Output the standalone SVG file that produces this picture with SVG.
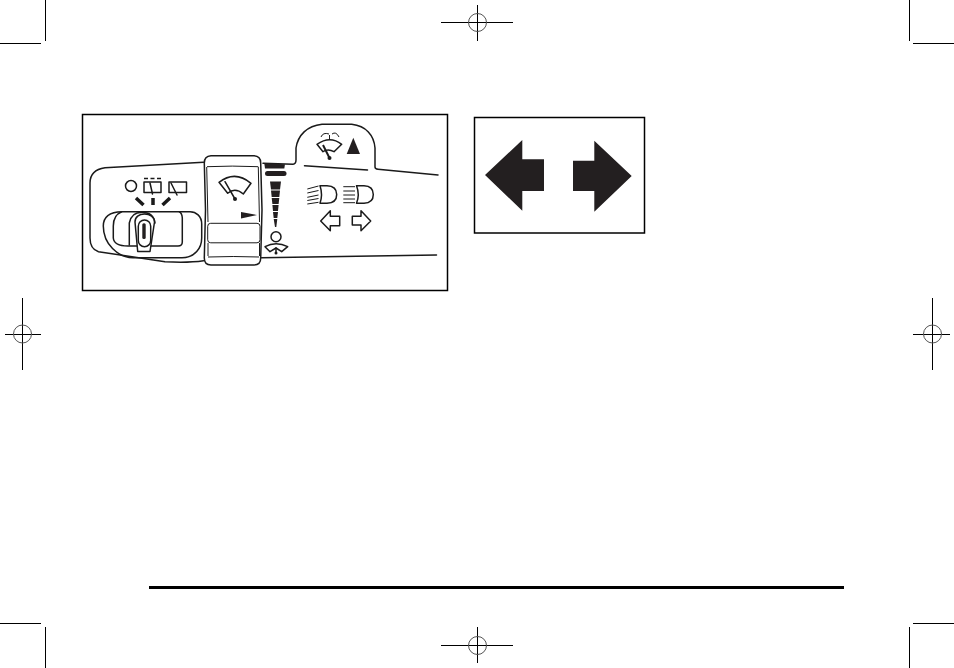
<svg xmlns="http://www.w3.org/2000/svg" width="954" height="668" viewBox="0 0 954 668">
<style>
.m{stroke:#000;stroke-width:1;fill:none}
.c{stroke:#555;stroke-width:1;fill:none}
.l{stroke:#1a1a1a;stroke-width:1.500;fill:none;stroke-linejoin:round;stroke-linecap:round}
.t{stroke:#1a1a1a;stroke-width:1;fill:none}
.k{fill:#231f20;stroke:none}
.w{fill:#fff;stroke:#1a1a1a;stroke-width:1.500;stroke-linejoin:round}
</style>
<rect width="954" height="668" fill="#fff"/>
<g id="crop-marks">
<path class="m" d="M0 43.500H41M45.500 0V41M0 623.500H41M45.500 627V668M913 43.500H954M909.500 0V41M913 623.500H954M909.500 627V668"/>
<path class="m" d="M441 22.500H513M477.500 5V41M441 645.500H513M477.500 627V663M5 334.500H41M22.500 298V370M913 334.500H950M932.500 298V370"/>
<circle class="c" cx="477.500" cy="22.500" r="9"/><circle class="c" cx="477.500" cy="645.500" r="9"/><circle class="c" cx="22.500" cy="334" r="9"/><circle class="c" cx="932.500" cy="334" r="9"/>
</g>
<g id="rule"><rect x="149" y="586" width="695" height="3" fill="#000"/></g>
<g id="stalk-panel">
<rect x="82.500" y="114.500" width="365" height="176" fill="#fff" stroke="#000" stroke-width="1.500"/>
<g id="stalk-body">
<path class="l" d="M203.500 162.300L105 167.700C96 169 90 174 90 183V238C90 246 93 250 98.500 251.700L165 261.700Q188 263 203.500 260.700"/>
<path class="l" d="M263 163.300L293 164.300Q296 164 296 160V148C298 135 307 126 322 124.300H351.700C366 126 374 135 375 148V167Q375 169 378 169.300L438 175"/>
<path class="l" d="M304.500 165.700L367.500 170"/>
<path class="l" d="M261.500 257.700L436.500 255"/>
</g>
<g id="indicators">
<circle class="l" cx="131" cy="186" r="5.500"/>
<rect class="l" x="144" y="182" width="17" height="10.500"/>
<path d="M144 178.500H161" stroke="#1a1a1a" stroke-width="1.500" stroke-dasharray="4 2.500"/>
<path class="l" d="M150 183L152.500 194"/>
<rect class="l" x="169" y="182" width="17.500" height="10.500"/>
<path class="l" d="M171 183L177 195"/>
<path d="M136 198L143.500 205M153 198V205M170 198L162.500 205" stroke="#1a1a1a" stroke-width="3.500"/>
</g>
<g id="slider">
<path class="l" d="M122 211.700C110 212 103.300 217 103.300 226C103.300 244 118 257.700 133 257.700H182C195 257.700 201.700 248 201.700 238V224C201.700 216 196 211.700 190 211.700Z"/>
<path class="l" d="M121.700 211.700Q113.300 215 113.300 226V238Q114 246 128 246H178Q182.300 246 182.300 242V218Q182 213 179.300 211.700"/>
<path class="l" d="M129.300 245V223C131 215 136 212.300 141.700 212.300C149 212.300 154 216 155 223"/>
<path class="w" d="M135 222C135 217 139 214 144.500 214C150 214 154.500 217 154.500 222L150 251.500H137.700Z"/>
<rect class="l" x="138.300" y="220" width="12.400" height="26.700" rx="6.200"/>
<rect class="k" x="142.300" y="223.300" width="3.400" height="15.700" rx="1.500"/>
</g>
<g id="wiper-dial">
<path class="l" d="M211 155.700H254Q260.700 156 260.700 163L262 210L260.700 258Q260.700 265 254 265H211Q204.300 265 204.300 258L205.500 210L204.300 163Q204.300 156 211 155.700Z"/>
<path class="t" d="M207 166.700Q232 165.500 258.300 166.700M206.700 167L208 222M258.300 167L259.500 222M208 257Q233 256 259 257"/>
<rect class="t" x="207.700" y="223.300" width="52.300" height="19.500" rx="3"/>
<path class="t" d="M208 243V256M259.500 243V256"/>
<path class="l" d="M219 182.300Q235 170 251 183.300L243.300 194Q235 187 227.700 193.300Z"/>
<path class="l" d="M225 181.700L235 199"/>
<circle cx="235" cy="199" r="2" fill="#1a1a1a"/>
<path class="k" d="M241 212L257 215L241 218.500Z"/>
</g>
<g id="speed-bars">
<path class="k" d="M264.300 163.300L285 164.300L284.300 168.500L265 168.500Z"/>
<rect class="k" x="265" y="171" width="21.500" height="5" rx="2.500"/>
<path class="k" d="M270 181.500H281L280 189.500H271ZM271 190.500H280L279.300 197H271.700ZM271.700 198H279.300L278.600 204H272.400ZM272.400 205H278.600L278 211H273ZM273 212H278L277.300 218H273.700ZM273.700 219H277.300L276.300 227H275Z"/>
<circle class="l" cx="276" cy="236.700" r="5"/>
<path class="l" d="M265 246.700Q276 241 287.700 246.700L281.700 251.700L276 248L270 251.700Z"/>
<path class="l" d="M276 248L276 253"/>
<circle cx="276" cy="253" r="1.500" fill="#1a1a1a"/>
</g>
<g id="hump-icon">
<path class="l" d="M317 144.300Q330 135 341.700 144.300L334 151.700Q328 148.500 323 151.700Z"/>
<path d="M323 145L329.500 158" stroke="#1a1a1a" stroke-width="2"/>
<circle cx="329.500" cy="158" r="2" fill="#1a1a1a"/>
<path class="t" d="M321 137Q323 132 329 134M329.500 140V135M332 134Q336 131 339 137"/>
<path class="k" d="M346.700 154L353.300 137.700L360 154Z"/>
</g>
<g id="beam-icons">
<path class="l" d="M320 185.700H327Q336.700 186 336.700 194.500Q336.700 203 327 203.300H320Q323 194.500 320 185.700Z"/>
<path class="t" d="M307.300 189L318.500 186M307.300 193L318.500 190.500M307.300 197.300L318.500 195M307.300 200.500L318.500 198.500M307.300 204L318.500 202.300"/>
<path class="l" d="M356.500 185.700H364Q373.300 186 373.300 194.500Q373.300 203 364 203.300H356.500Q360 194.500 356.500 185.700Z"/>
<path class="t" d="M343.300 186.700H355M343.300 191H355M343.300 195H355M343.300 199H355M343.300 202.700H355"/>
</g>
<g id="turn-icons">
<path class="l" d="M320.700 221L330.300 210.700V216.300H339.700V225.700H330.300V230.700Z"/>
<path class="l" d="M370.700 221L361 210.700V216.300H352.300V225H361V230.700Z"/>
</g>
</g>
<g id="arrow-panel">
<rect x="474.500" y="117.500" width="170" height="115.500" fill="#fff" stroke="#000" stroke-width="1.500"/>
<path class="k" d="M485 175L522.300 140V159.300H544V191H522.300V210.700Z"/>
<path class="k" d="M631.700 176L594.300 140.700V160.700H573V191H594.300V211.700Z"/>
</g>
</svg>
